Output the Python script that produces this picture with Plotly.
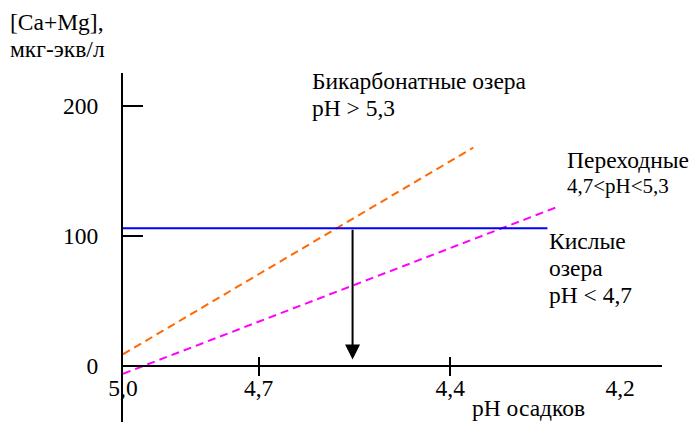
import numpy as np
import plotly.graph_objects as go

# --- data -------------------------------------------------------------
# Lines: pH of precipitation (ends of each line) vs [Ca+Mg], µeq/L
bicarb_ph = [5.0, 4.37]
bicarb_ca = [9, 168]
trans_ph = [5.0, 4.27]
trans_ca = [-6, 122]
acid_ph = [5.0, 4.28]
acid_ca = [106, 106]

# Vertical arrow dropped from the acid-lake threshold
arrow_ph = 4.54
arrow_ca_from = 106
arrow_ca_to = 5

# Axis ticks
x_tick_ph = [5.0, 4.7, 4.4, 4.2]
x_tick_text = ["5,0", "4,7", "4,4", "4,2"]
x_mark_ph = [4.7, 4.4]
y_tick_vals = [0, 100, 200]
y_tick_text = ["0", "100", "200"]

# --- layout constants --------------------------------------------------
W, H = 694, 422
ML, MR, MT, MB = 123, 32, 73, 0
PLOT_W = W - ML - MR
PLOT_H = H - MT - MB
FONT = "Liberation Serif"
FS = 23.5

X_PH_RANGE = [5.0, 4.157]
Y_RANGE = [-43.1, 225.4]


def hscale(ph):
    """Horizontal position: square root of [H+] (scaled), so lower pH sits further right."""
    return 1000.0 * np.sqrt(10.0 ** (-np.asarray(ph, dtype=float)))


def px_to_paper(px, py):
    return (px - ML) / PLOT_W, (H - MB - py) / PLOT_H


x_range = list(hscale(X_PH_RANGE))
x_axis_pos = (0 - Y_RANGE[0]) / (Y_RANGE[1] - Y_RANGE[0])

fig = go.Figure()

dash = "8px,5px"
fig.add_trace(go.Scatter(x=hscale(bicarb_ph), y=bicarb_ca, mode="lines",
                         line=dict(color="#FF6A00", width=2, dash=dash)))
fig.add_trace(go.Scatter(x=hscale(trans_ph), y=trans_ca, mode="lines",
                         line=dict(color="#FF00FF", width=2, dash=dash)))
fig.add_trace(go.Scatter(x=hscale(acid_ph), y=acid_ca, mode="lines",
                         line=dict(color="#0000FF", width=2)))
# empty traces so the tick-mark axes get drawn
fig.add_trace(go.Scatter(x=[], y=[], xaxis="x2", yaxis="y"))
fig.add_trace(go.Scatter(x=[], y=[], xaxis="x3", yaxis="y"))

ax_x = float(hscale(arrow_ph))
fig.add_annotation(x=ax_x, y=arrow_ca_to, ax=ax_x, ay=arrow_ca_from,
                   xref="x", yref="y", axref="x", ayref="y",
                   text="", showarrow=True, arrowhead=2, arrowsize=1.5,
                   arrowwidth=2, arrowcolor="black", standoff=0)

labels = [
    ("[Ca+Mg],", 8, 22, FS),
    ("мкг-экв/л", 8, 49, FS),
    ("Бикарбонатные озера", 310, 81, FS),
    ("pH > 5,3", 310, 108, FS),
    ("Переходные", 565, 160, FS),
    ("4,7<pH<5,3", 565, 186, 21),
    ("Кислые", 547, 241, FS),
    ("озера", 547, 268, FS),
    ("pH < 4,7", 547, 295, FS),
    ("pH осадков", 470, 408, FS),
]
for text, px, py, size in labels:
    xp, yp = px_to_paper(px, py)
    fig.add_annotation(x=xp, y=yp, xref="paper", yref="paper", text=text,
                       showarrow=False, xanchor="left", yanchor="middle",
                       font=dict(family=FONT, size=size, color="black"))

common_x = dict(range=x_range, anchor="free", position=x_axis_pos,
                showgrid=False, zeroline=False, showline=False)

fig.update_layout(
    width=W, height=H,
    margin=dict(l=ML, r=MR, t=MT, b=MB),
    paper_bgcolor="white", plot_bgcolor="white",
    showlegend=False,
    font=dict(family=FONT, size=FS, color="black"),
    xaxis=dict(**common_x, ticks="", tickmode="array",
               tickvals=list(hscale(x_tick_ph)), ticktext=x_tick_text,
               tickfont=dict(family=FONT, size=FS, color="black"),
               ticklabelstandoff=6),
    xaxis2=dict(**common_x, overlaying="x", ticks="outside", ticklen=9,
                tickwidth=2, tickcolor="black", tickmode="array",
                tickvals=list(hscale(x_mark_ph)), showticklabels=False),
    xaxis3=dict(**common_x, overlaying="x", ticks="inside", ticklen=9,
                tickwidth=2, tickcolor="black", tickmode="array",
                tickvals=list(hscale(x_mark_ph)), showticklabels=False),
    yaxis=dict(range=Y_RANGE, showgrid=False, showline=True,
               linecolor="black", linewidth=2,
               zeroline=True, zerolinecolor="black", zerolinewidth=2,
               ticks="inside", ticklen=20, tickwidth=2, tickcolor="black",
               tickmode="array", tickvals=y_tick_vals, ticktext=y_tick_text,
               tickfont=dict(family=FONT, size=FS, color="black"),
               ticklabelstandoff=18),
)

fig.write_html("out.html")
